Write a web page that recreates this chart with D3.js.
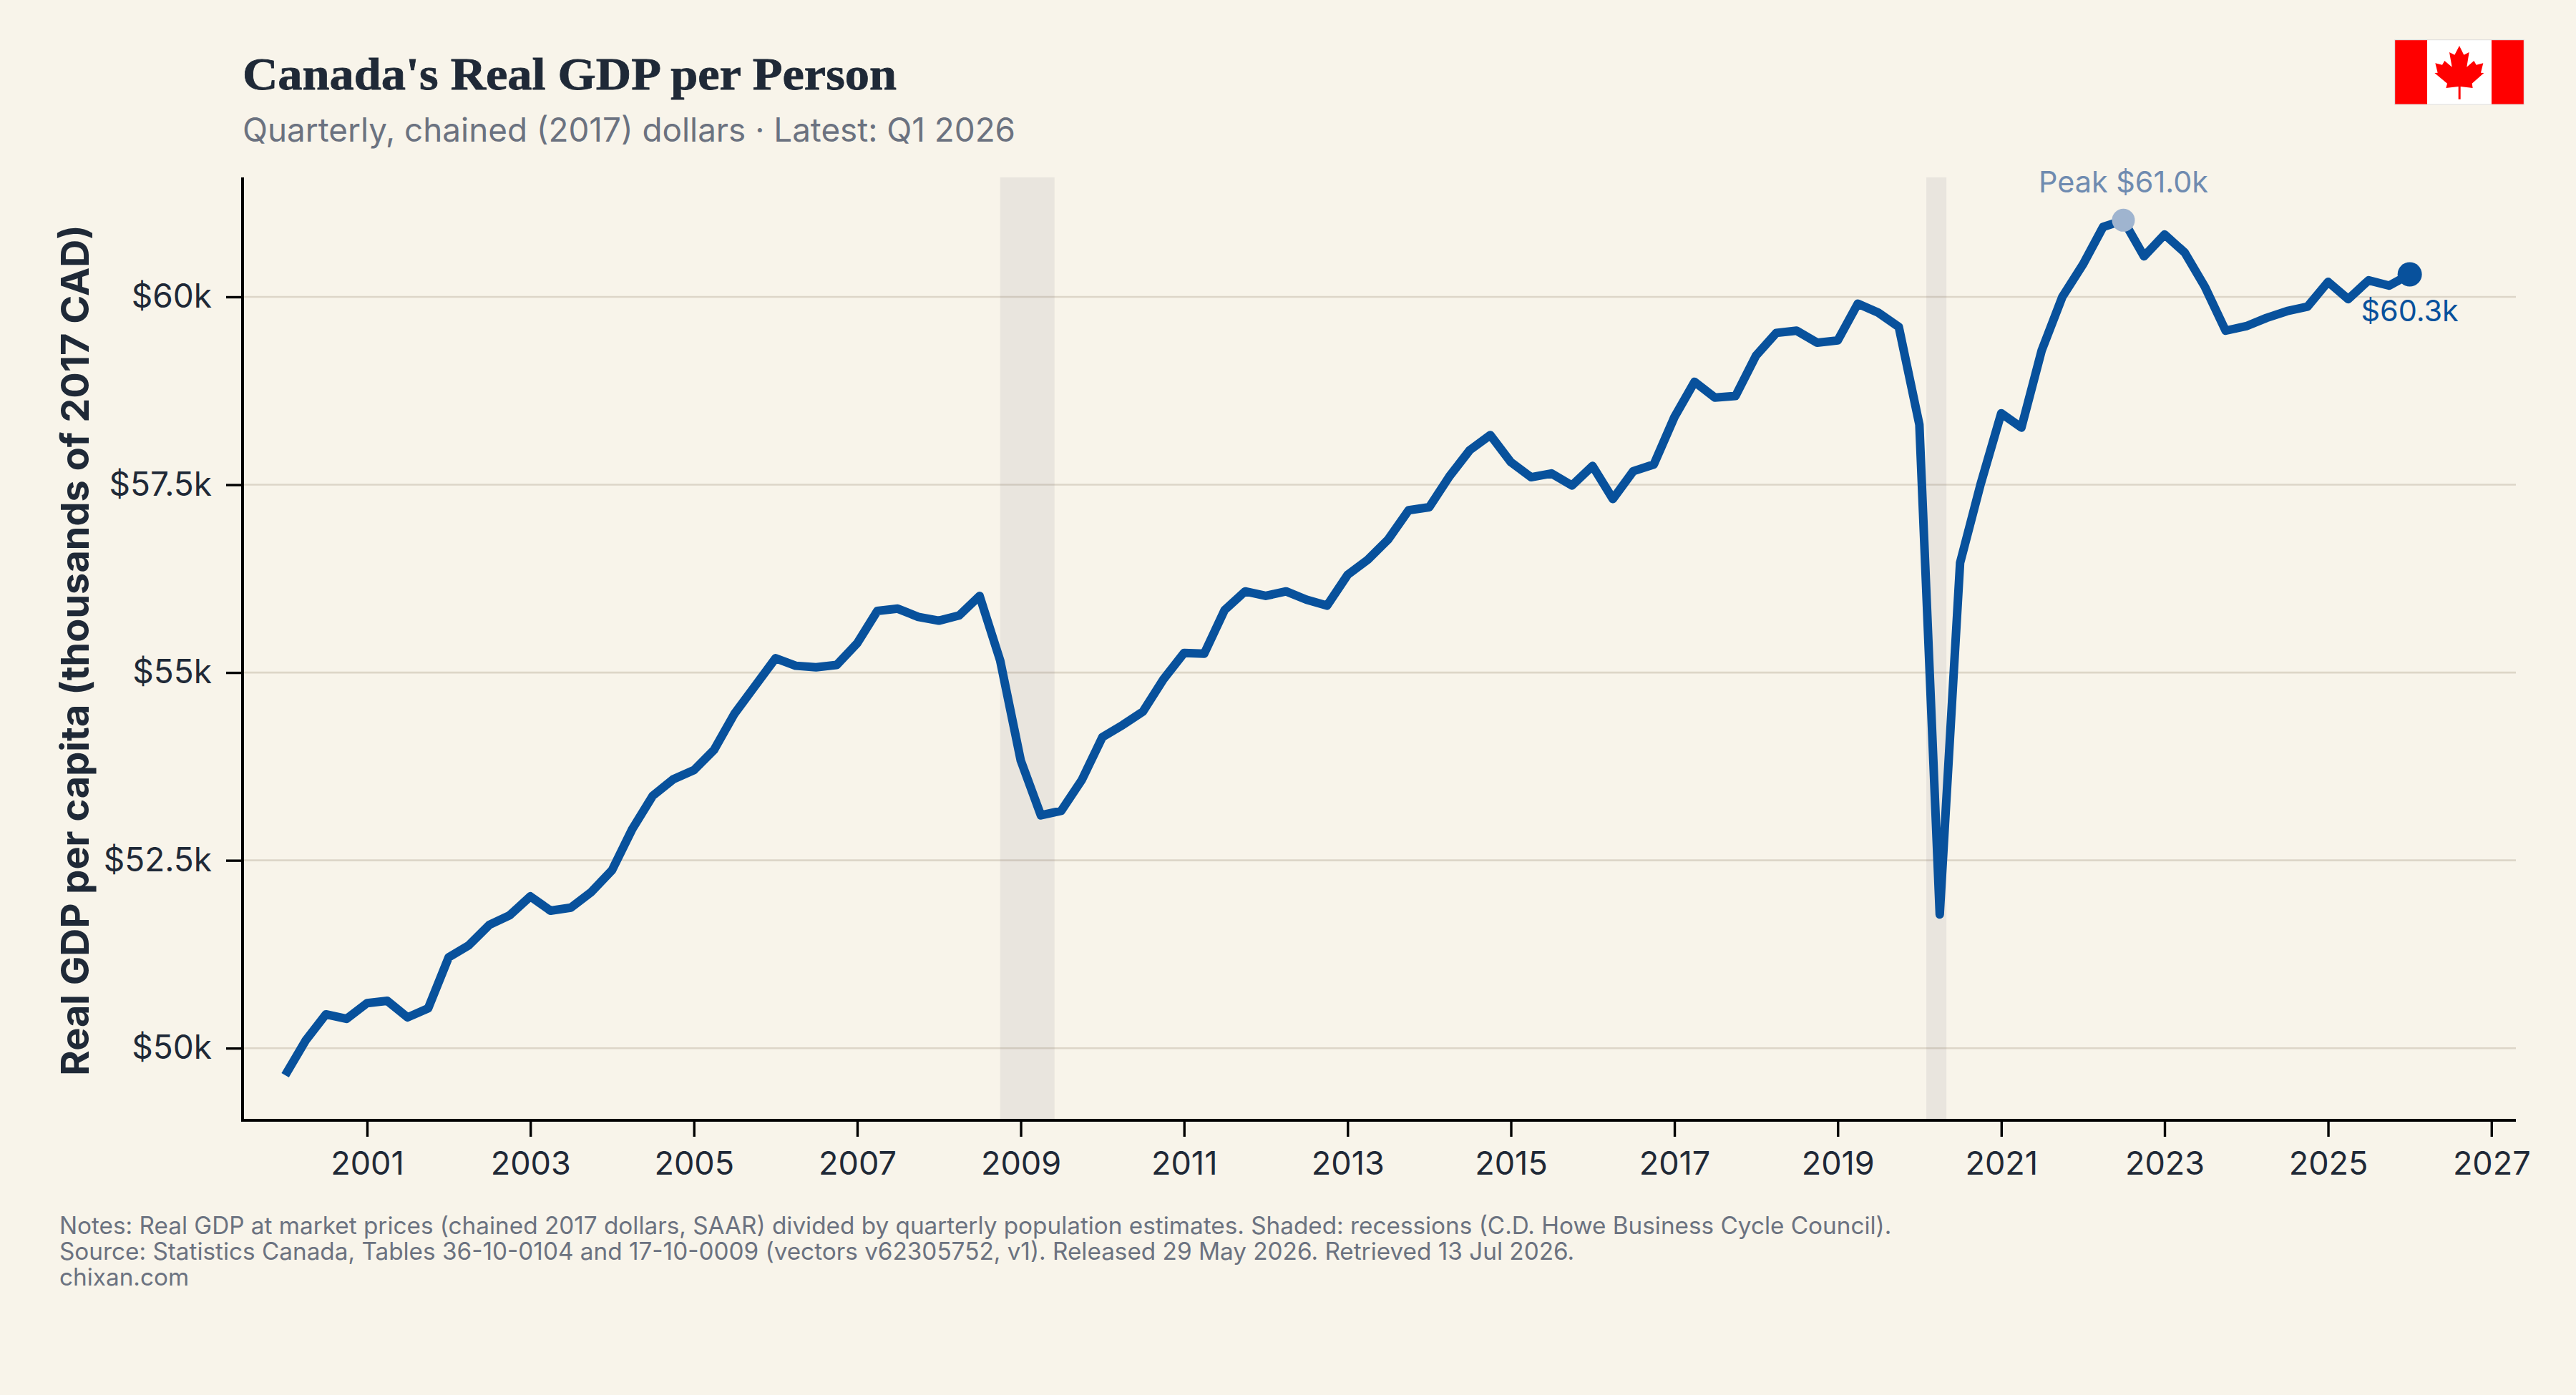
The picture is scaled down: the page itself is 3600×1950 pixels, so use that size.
<!DOCTYPE html>
<html>
<head>
<meta charset="utf-8">
<script src="https://cdn.jsdelivr.net/npm/d3@7/dist/d3.min.js"></script>
<style>
  html, body { margin: 0; padding: 0; background: #F8F4EA; }
  svg { display: block; }
  text { font-family: Inter, "Noto Sans", sans-serif; }
</style>
</head>
<body>
<div id="chart"></div>
<script>
// Real GDP per person, thousands of chained 2017 CAD, one value per quarter from Q1 2000.
const firstYear = 2000;
const gdpPerCapita = [
  49.64, 50.10, 50.45, 50.39, 50.60, 50.63, 50.41, 50.53, 51.21, 51.37, 51.64, 51.77,
  52.02, 51.83, 51.87, 52.08, 52.37, 52.92, 53.36, 53.58, 53.70, 53.97, 54.45, 54.82,
  55.19, 55.09, 55.07, 55.10, 55.39, 55.82, 55.85, 55.74, 55.69, 55.76, 56.02, 55.16,
  53.83, 53.10, 53.16, 53.57, 54.14, 54.30, 54.48, 54.91, 55.26, 55.25, 55.83, 56.08,
  56.02, 56.08, 55.97, 55.89, 56.30, 56.50, 56.77, 57.16, 57.20, 57.61, 57.96, 58.16,
  57.80, 57.60, 57.65, 57.49, 57.75, 57.31, 57.68, 57.77, 58.40, 58.87, 58.66, 58.68,
  59.22, 59.52, 59.55, 59.39, 59.42, 59.91, 59.79, 59.60, 58.30, 51.78, 56.46, 57.51,
  58.45, 58.26, 59.29, 60.00, 60.43, 60.93, 61.02, 60.54, 60.83, 60.59, 60.13, 59.55,
  59.61, 59.72, 59.81, 59.87, 60.20, 59.97, 60.22, 60.15, 60.30
];
const recessions = [
  ["2008-10-01", "2009-06-01"],
  ["2020-02-01", "2020-05-01"]
];
const yTicks = [50, 52.5, 55, 57.5, 60];
const yTickLabels = ["$50k", "$52.5k", "$55k", "$57.5k", "$60k"];
const xTickYears = [2001, 2003, 2005, 2007, 2009, 2011, 2013, 2015, 2017, 2019, 2021, 2023, 2025, 2027];
const titleText = "Canada's Real GDP per Person";
const subtitleText = "Quarterly, chained (2017) dollars \u00b7 Latest: Q1 2026";
const yAxisTitle = "Real GDP per capita (thousands of 2017 CAD)";
const footerLines = [
  "Notes: Real GDP at market prices (chained 2017 dollars, SAAR) divided by quarterly population estimates. Shaded: recessions (C.D. Howe Business Cycle Council).",
  "Source: Statistics Canada, Tables 36-10-0104 and 17-10-0009 (vectors v62305752, v1). Released 29 May 2026. Retrieved 13 Jul 2026.",
  "chixan.com"
];
// Maple leaf outline on a 542 x 271 flag.
const leafOutline = [
  [271,25],[290,63],[312,52],[302,114],[332,88],[342,105],[371,98],[361,138],[374,139],[324,183],
  [327,202],[276,196],[276,249],[267,249],[267,196],[215,202],[220,183],[167,139],[180,138],[170,98],
  [199,105],[209,88],[240,114],[229,52],[251,63]
];

const W = 3600, H = 1950;
const plot = { left: 339, right: 3516, top: 248, bottom: 1566 };
const ink = "#1f2937", muted = "#6b7280", lineBlue = "#08519c";

const quarterly = gdpPerCapita.map((v, i) => ({
  date: new Date(Date.UTC(firstYear + Math.floor(i / 4), (i % 4) * 3, 1)),
  value: v
}));
// Converts a fractional year to a date so the domain can sit between months.
const dateAtYear = yr => {
  const start = Date.UTC(Math.floor(yr), 0, 1);
  const end = Date.UTC(Math.floor(yr) + 1, 0, 1);
  return new Date(start + (yr - Math.floor(yr)) * (end - start));
};

const x = d3.scaleUtc()
  .domain([dateAtYear(1999.478), dateAtYear(2027.3)])
  .range([plot.left, plot.right]);
const y = d3.scaleLinear()
  .domain([49.04, 61.59])
  .range([plot.bottom, plot.top]);

const svg = d3.select("#chart").append("svg")
  .attr("width", W).attr("height", H)
  .style("background", "#F8F4EA");

// Horizontal gridlines
svg.append("g").selectAll("line").data(yTicks).join("line")
  .attr("x1", plot.left).attr("x2", plot.right)
  .attr("y1", d => y(d)).attr("y2", d => y(d))
  .attr("stroke", "#ddd6c8")
  .attr("stroke-width", 2.6);

// Recession bands, translucent so the gridlines show through
svg.append("g").selectAll("rect").data(recessions).join("rect")
  .attr("x", d => x(new Date(d[0])))
  .attr("width", d => x(new Date(d[1])) - x(new Date(d[0])))
  .attr("y", plot.top)
  .attr("height", plot.bottom - plot.top)
  .attr("fill", "#6b6677")
  .attr("fill-opacity", 0.1);

// Series line
const line = d3.line().x(d => x(d.date)).y(d => y(d.value));
svg.append("path").datum(quarterly)
  .attr("d", line)
  .attr("fill", "none")
  .attr("stroke", lineBlue)
  .attr("stroke-width", 12)
  .attr("stroke-linejoin", "round")
  .attr("stroke-linecap", "butt");

// Axes
const xAxis = d3.axisBottom(x)
  .tickValues(xTickYears.map(yr => new Date(Date.UTC(yr, 0, 1))))
  .tickFormat(d3.utcFormat("%Y"))
  .tickSize(23).tickPadding(21);
const gx = svg.append("g")
  .attr("transform", `translate(0,${plot.bottom})`).call(xAxis);
const yAxis = d3.axisLeft(y)
  .tickValues(yTicks)
  .tickFormat((d, i) => yTickLabels[i])
  .tickSize(23).tickPadding(20);
const gy = svg.append("g")
  .attr("transform", `translate(${plot.left},0)`).call(yAxis);
[gx, gy].forEach(g => {
  g.select(".domain").attr("stroke", "#000").attr("stroke-width", 4)
    .attr("d", g === gx
      ? `M${plot.left - 2},0H${plot.right}`
      : `M0,${plot.top}V${plot.bottom + 2}`);
  g.selectAll(".tick line").attr("stroke", "#000").attr("stroke-width", 3.4);
  g.selectAll(".tick text").attr("fill", ink)
    .style("font-size", g === gx ? "45px" : "46px")
    .style("font-family", "Inter, sans-serif");
});

// Peak and latest markers
const peak = quarterly.reduce((a, b) => (b.value > a.value ? b : a));
const latest = quarterly[quarterly.length - 1];
svg.append("circle")
  .attr("cx", x(peak.date)).attr("cy", y(peak.value)).attr("r", 16)
  .attr("fill", "#9fb4cf");
svg.append("circle")
  .attr("cx", x(latest.date)).attr("cy", y(latest.value)).attr("r", 17)
  .attr("fill", lineBlue);
svg.append("text")
  .attr("x", x(peak.date)).attr("y", y(peak.value) - 39)
  .attr("text-anchor", "middle")
  .attr("fill", "#6f8bb0")
  .style("font-size", "41.4px")
  .text(`Peak $${peak.value.toFixed(1)}k`);
svg.append("text")
  .attr("x", x(latest.date)).attr("y", y(latest.value) + 65.5)
  .attr("text-anchor", "middle")
  .attr("fill", lineBlue)
  .style("font-size", "41.4px")
  .text(`$${latest.value.toFixed(1)}k`);

// Titles
svg.append("text")
  .attr("x", 339).attr("y", 125)
  .attr("fill", ink)
  .attr("stroke", ink)
  .attr("stroke-width", 0.8)
  .style("font-family", "'Liberation Serif', serif")
  .style("font-weight", 700)
  .style("font-size", "64px")
  .attr("textLength", 914).attr("lengthAdjust", "spacingAndGlyphs")
  .text(titleText);
svg.append("text")
  .attr("x", 339).attr("y", 198)
  .attr("fill", muted)
  .style("font-size", "45.8px")
  .text(subtitleText);
svg.append("text")
  .attr("transform", `translate(124,${(plot.top + plot.bottom) / 2 + 2}) rotate(-90)`)
  .attr("text-anchor", "middle")
  .attr("fill", ink)
  .style("font-size", "54.1px")
  .style("font-weight", 700)
  .text(yAxisTitle);

// Footer notes
svg.append("g").selectAll("text").data(footerLines).join("text")
  .attr("x", 83)
  .attr("y", (d, i) => 1725 + i * 36)
  .attr("fill", muted)
  .style("font-size", "33.3px")
  .text(d => d);

// Flag
const flag = svg.append("svg")
  .attr("x", 3346.7).attr("y", 55.7)
  .attr("width", 180.6).attr("height", 90.3)
  .attr("viewBox", "0 0 542 271");
flag.append("rect").attr("width", 542).attr("height", 271).attr("fill", "#fff");
flag.append("rect").attr("width", 136).attr("height", 271).attr("fill", "#ff0000");
flag.append("rect").attr("x", 406).attr("width", 136).attr("height", 271).attr("fill", "#ff0000");
flag.append("polygon")
  .attr("points", leafOutline.map(p => p.join(",")).join(" "))
  .attr("fill", "#ff0000");
svg.append("rect")
  .attr("x", 3346.7).attr("y", 55.7)
  .attr("width", 180.6).attr("height", 90.3)
  .attr("fill", "none").attr("stroke", "#dddddd").attr("stroke-width", 1);
</script>
</body>
</html>
